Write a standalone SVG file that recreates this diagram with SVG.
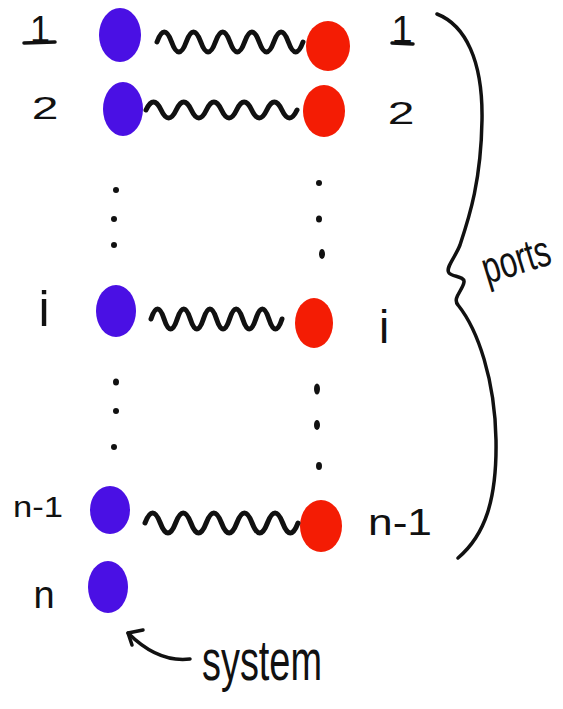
<svg xmlns="http://www.w3.org/2000/svg" width="563" height="709" viewBox="0 0 563 709">
<style>
.sys{fill:#4a10e4}
.port{fill:#f41c04}
.lbl{font-family:"Liberation Sans",Arial,sans-serif;fill:#111;text-anchor:middle}
.wave{fill:none;stroke:#111;stroke-width:5;stroke-linecap:round;stroke-linejoin:round}
.ink{fill:none;stroke:#111;stroke-width:3.5;stroke-linecap:round;stroke-linejoin:round}
.dot{fill:#111}
</style>
<rect width="563" height="709" fill="#fff"/>

<g id="sys-1">
<ellipse class="sys" cx="120" cy="35" rx="21" ry="27"/>
<text class="lbl" x="40" y="42" font-size="36">1</text>
<line class="ink" x1="24" y1="43" x2="55" y2="42" stroke-width="3"/>
</g>
<g id="port-1">
<ellipse class="port" cx="328" cy="46" rx="22" ry="25"/>
<text class="lbl" x="402" y="43" font-size="38">1</text>
<line class="ink" x1="392" y1="43" x2="413" y2="44" stroke-width="3"/>
</g>

<g id="sys-2">
<ellipse class="sys" cx="123" cy="109" rx="20" ry="27"/>
<text class="lbl" x="45" y="119" font-size="32" transform="translate(45 0) scale(1.5 1) translate(-45 0)">2</text>
</g>
<g id="port-2">
<ellipse class="port" cx="324" cy="111" rx="21" ry="26"/>
<text class="lbl" x="401" y="124" font-size="32" transform="translate(401 0) scale(1.5 1) translate(-401 0)">2</text>
</g>

<g id="sys-dots-upper">
<circle class="dot" cx="116" cy="190" r="3"/>
<circle class="dot" cx="114" cy="219" r="3"/>
<circle class="dot" cx="114" cy="245" r="3"/>
</g>
<g id="port-dots-upper">
<circle class="dot" cx="319" cy="183" r="3"/>
<ellipse class="dot" cx="319" cy="219" rx="3" ry="3.5"/>
<ellipse class="dot" cx="322" cy="254" rx="3" ry="5"/>
</g>

<g id="sys-i">
<ellipse class="sys" cx="116" cy="311" rx="20" ry="26"/>
<text class="lbl" x="44" y="326" font-size="50">i</text>
</g>
<g id="port-i">
<ellipse class="port" cx="314" cy="323" rx="19" ry="25"/>
<text class="lbl" x="384" y="343" font-size="46">i</text>
</g>

<g id="sys-dots-lower">
<ellipse class="dot" cx="116" cy="382" rx="3" ry="3.5"/>
<circle class="dot" cx="116" cy="411" r="3"/>
<circle class="dot" cx="114" cy="447" r="3"/>
</g>
<g id="port-dots-lower">
<ellipse class="dot" cx="317" cy="389" rx="3" ry="5.5"/>
<ellipse class="dot" cx="317" cy="425" rx="3" ry="5"/>
<ellipse class="dot" cx="319" cy="466" rx="3" ry="4"/>
</g>

<g id="sys-n-1">
<ellipse class="sys" cx="110" cy="510" rx="20" ry="24"/>
<text class="lbl" x="38" y="517" font-size="30" textLength="50" lengthAdjust="spacingAndGlyphs">n-1</text>
</g>
<g id="port-n-1">
<ellipse class="port" cx="321" cy="526" rx="21" ry="26"/>
<text class="lbl" x="400" y="535" font-size="36" textLength="64" lengthAdjust="spacingAndGlyphs">n-1</text>
</g>

<g id="sys-n">
<ellipse class="sys" cx="108" cy="587" rx="20" ry="26"/>
<text class="lbl" x="44" y="608" font-size="38">n</text>
</g>

<g id="connectors">
<path class="wave" d="M157,42 q7.3,-20 14.6,0 t14.6,0 t14.6,0 t14.6,0 t14.6,0 t14.6,0 t14.6,0 t14.6,0 t14.6,0 t14.6,0"/>
<path class="wave" d="M146,110 q7.55,-16 15.1,0 t15.1,0 t15.1,0 t15.1,0 t15.1,0 t15.1,0 t15.1,0 t15.1,0 t15.1,0 t15.1,0"/>
<path class="wave" d="M151,319 q6.55,-20 13.1,0 t13.1,0 t13.1,0 t13.1,0 t13.1,0 t13.1,0 t13.1,0 t13.1,0 t13.1,0 t13.1,0"/>
<path class="wave" d="M145,523 q7.65,-20 15.3,0 t15.3,0 t15.3,0 t15.3,0 t15.3,0 t15.3,0 t15.3,0 t15.3,0 t15.3,0 t15.3,0"/>
<path class="ink" d="M128,633 C145,650 165,662 190,659"/>
<path class="ink" d="M143,630 L128,633 L132,645"/>
</g>

<g id="ports-brace">
<path class="ink" d="M437,14 C465,25 483,60 482,120 C481,180 470,215 460,245 C455,258 445,268 449,273 C452,277 465,276 464,282 C463,290 452,298 458,305 C478,330 495,380 496,440 C497,500 485,535 458,558"/>
<text class="lbl" x="0" y="0" font-size="34" style="text-anchor:start" transform="translate(487 284) rotate(-17) scale(0.92 1.3)">ports</text>
</g>

<g id="system-label">
<text class="lbl" x="202" y="680" font-size="58" style="text-anchor:start" textLength="120" lengthAdjust="spacingAndGlyphs">system</text>
</g>
</svg>
